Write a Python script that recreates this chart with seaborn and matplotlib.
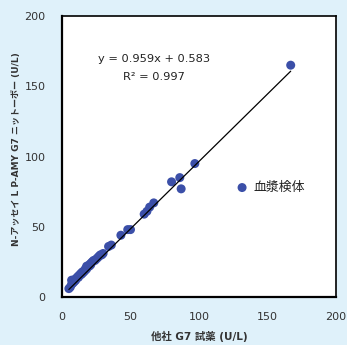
import matplotlib
matplotlib.use("Agg")
import matplotlib.pyplot as plt
import seaborn as sns
import numpy as np
import pandas as pd

# Plasma sample comparison: other-vendor G7 reagent vs N-assay L P-AMY G7 Nittobo
other_g7 = [5, 6, 7, 7, 8, 8, 9, 10, 10, 11, 12, 12, 13, 14, 14, 15, 15, 16, 17, 17,
            18, 18, 19, 20, 20, 21, 21, 22, 23, 24, 25, 26, 27, 28, 29, 30, 34, 36,
            43, 48, 50, 60, 62, 64, 67, 80, 86, 87, 97, 167]
nittobo_g7 = [6, 7, 9, 12, 10, 12, 11, 12, 13, 14, 14, 15, 16, 16, 17, 17, 18, 18, 19, 20,
              20, 22, 22, 22, 23, 23, 24, 25, 26, 26, 27, 28, 29, 30, 30, 31, 36, 37,
              44, 48, 48, 59, 61, 64, 67, 82, 85, 77, 95, 165]
slope = 0.959
intercept = 0.583
r_squared = 0.997
ticks = [0, 50, 100, 150, 200]

df = pd.DataFrame({"x": other_g7, "y": nittobo_g7})

sns.set_style("white")
plt.rcParams["font.family"] = ["DejaVu Sans", "Noto Sans CJK JP"]

fig = plt.figure(figsize=(3.47, 3.45), dpi=100)
fig.patch.set_facecolor("#dff1fa")
ax = fig.add_axes([0.1787, 0.139, 0.7893, 0.8146])
ax.set_facecolor("white")

sns.scatterplot(data=df, x="x", y="y", ax=ax, color="#3b4fa8", s=42,
                edgecolor="none", label="血漿検体", zorder=2)

fit_x = np.array([min(other_g7), max(other_g7)])
sns.lineplot(x=fit_x, y=slope * fit_x + intercept, ax=ax, color="black",
             linewidth=0.9, zorder=3, legend=False)

ax.set_xlim(0, 200)
ax.set_ylim(0, 200)
ax.set_xticks(ticks)
ax.set_yticks(ticks)
ax.tick_params(axis="both", direction="in", length=3, width=1.2, colors="black",
               labelsize=8, labelcolor="#333333")
ax.tick_params(axis="x", pad=11)
ax.tick_params(axis="y", pad=12)
for side in ["left", "bottom", "top", "right"]:
    ax.spines[side].set_visible(True)
    ax.spines[side].set_color("black")
ax.spines["left"].set_linewidth(1.6)
ax.spines["bottom"].set_linewidth(1.6)
ax.spines["top"].set_linewidth(1.2)
ax.spines["right"].set_linewidth(1.2)

ax.set_xlabel("他社 G7 試薬 (U/L)", fontsize=7.5, fontweight="bold", color="#333333",
              labelpad=6)
ax.set_ylabel("N-アッセイ L P-AMY G7 ニットーボー (U/L)", fontsize=6.5,
              fontweight="bold", color="#333333")
ax.yaxis.set_label_coords(-0.15, 0.528)

ax.text(67, 169.5, f"y = {slope}x + {intercept}", ha="center", va="center",
        fontsize=8.2, color="#222222")
ax.text(67, 156.5, f"R\u00b2 = {r_squared}", ha="center", va="center",
        fontsize=8.2, color="#222222")

leg = ax.legend(loc="center left", bbox_to_anchor=(0.615, 0.39), frameon=False,
                handlelength=1.0, handletextpad=0.35, borderaxespad=0,
                markerscale=1.0, fontsize=9.3)
for t in leg.get_texts():
    t.set_color("#222222")
    t.set_fontfamily(["Noto Sans CJK JP", "DejaVu Sans"])

fig.savefig("out.png", dpi=100, facecolor=fig.get_facecolor())
